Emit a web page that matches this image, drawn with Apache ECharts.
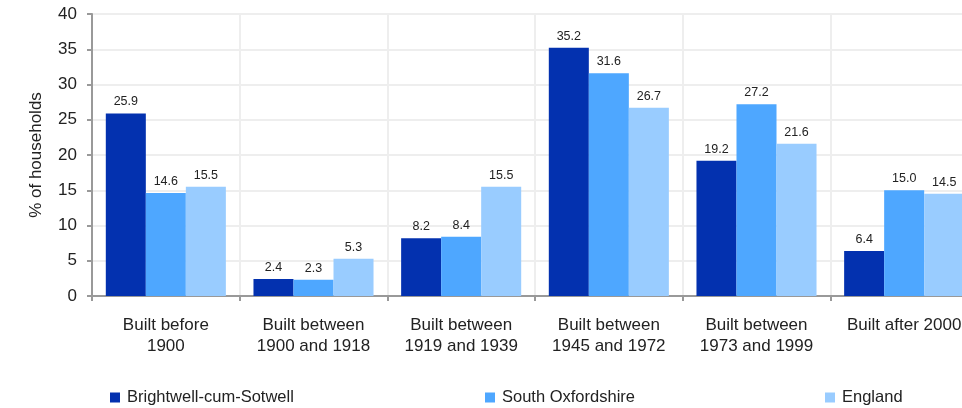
<!DOCTYPE html>
<html><head><meta charset="utf-8">
<script src="https://cdn.jsdelivr.net/npm/echarts@6/dist/echarts.min.js"></script>
<style>html,body{margin:0;padding:0;background:#fff}#c{width:962px;height:408px}</style>
</head><body><div id="c"></div>
<script>
var categories = ['Built before\n1900','Built between\n1900 and 1918','Built between\n1919 and 1939','Built between\n1945 and 1972','Built between\n1973 and 1999','Built after 2000'];
var seriesNames = ['Brightwell-cum-Sotwell','South Oxfordshire','England'];
var brightwell = [25.9, 2.4, 8.2, 35.2, 19.2, 6.4];
var southOxon = [14.6, 2.3, 8.4, 31.6, 27.2, 15.0];
var england = [15.5, 5.3, 15.5, 26.7, 21.6, 14.5];
var colors = ['#0331AF','#4EA7FF','#99CCFF'];
var font = 'Liberation Sans, Arial, sans-serif';
var chart = echarts.init(document.getElementById('c'));
function mk(name, data, color){
  return {name:name,type:'bar',data:data,barGap:'0%',barCategoryGap:'18.7%',
    itemStyle:{color:color},
    label:{show:true,position:'top',distance:5,color:'#222',fontSize:12.5,fontFamily:font,
      formatter:function(p){return p.value.toFixed(1);}}};
}
var legendBase = {top:389,itemWidth:10,itemHeight:10,icon:'rect',itemGap:5,padding:0,
  textStyle:{fontSize:16.5,color:'#222',fontFamily:font,padding:[0,0,0,2]}};
chart.setOption({
  animation:false,
  color:colors,
  grid:{left:92,top:14,width:886,bottom:112,containLabel:false,outerBoundsMode:'none'},
  legend:[
    Object.assign({left:110,data:[seriesNames[0]]},legendBase),
    Object.assign({left:485,data:[seriesNames[1]]},legendBase),
    Object.assign({left:825,data:[seriesNames[2]]},legendBase)
  ],
  xAxis:{type:'category',data:categories,
    axisLine:{lineStyle:{color:'#999',width:2}},
    axisTick:{show:true,length:5,lineStyle:{color:'#999',width:2}},
    splitLine:{show:true,lineStyle:{color:'#eeeeee',width:2}},
    axisLabel:{color:'#222',fontSize:17,fontFamily:font,margin:19,lineHeight:21,interval:0}},
  yAxis:{type:'value',min:0,max:40,interval:5,
    name:'% of households',nameLocation:'middle',nameGap:47,nameRotate:90,
    nameTextStyle:{fontSize:17,color:'#222',fontFamily:font},
    axisLine:{show:true,lineStyle:{color:'#999',width:2}},
    axisTick:{show:true,length:5,lineStyle:{color:'#999',width:2}},
    splitLine:{show:true,lineStyle:{color:'#eeeeee',width:2}},
    axisLabel:{color:'#222',fontSize:17,fontFamily:font,margin:15}},
  series:[mk(seriesNames[0],brightwell,colors[0]),mk(seriesNames[1],southOxon,colors[1]),mk(seriesNames[2],england,colors[2])]
});
</script></body></html>
